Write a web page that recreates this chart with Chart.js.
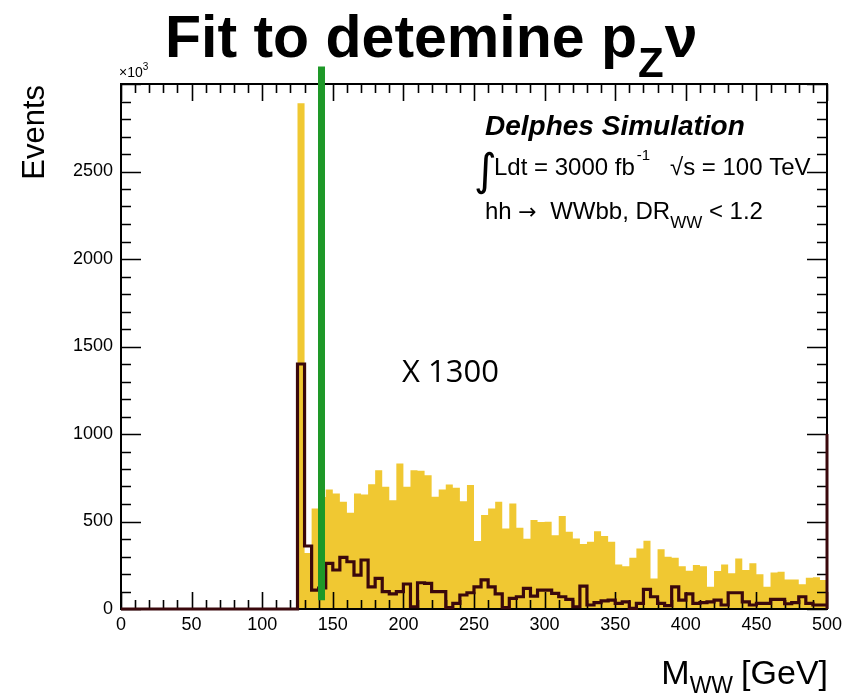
<!DOCTYPE html>
<html>
<head>
<meta charset="utf-8">
<title>M_WW</title>
<script src="https://cdn.jsdelivr.net/npm/chart.js@4.4.0/dist/chart.umd.min.js"></script>
<style>
  html, body { margin: 0; padding: 0; background: #fff; }
</style>
</head>
<body>
<canvas id="mwwChart" width="864" height="697"></canvas>
<script>
// histogram binning (GeV)
const binWidth = 5;
const xMin = 0, xMax = 500;
const yMax = 3000; // x10^3 events

const xTickValues = [0, 50, 100, 150, 200, 250, 300, 350, 400, 450, 500];
const yTickValues = [0, 500, 1000, 1500, 2000, 2500];

// background, one entry per 5 GeV bin (0-500)
const backgroundCounts = [
  0, 0, 0, 0, 0, 0, 0, 0, 0, 0,
  0, 0, 0, 0, 0, 0, 0, 0, 0, 0,
  0, 0, 0, 0, 0, 2890, 320, 575, 640, 683,
  660, 613, 550, 660, 655, 713, 793, 698, 622, 831,
  698, 793, 790, 765, 641, 683, 712, 693, 616, 708,
  388, 537, 575, 613, 460, 603, 464, 401, 508, 497,
  498, 422, 531, 441, 403, 371, 384, 445, 417, 384,
  255, 245, 293, 346, 390, 175, 341, 299, 293, 245,
  219, 251, 245, 127, 217, 255, 204, 289, 223, 261,
  198, 127, 209, 213, 169, 169, 141, 179, 181, 166
];

// hh signal, scaled x1300
const signalCounts = [
  0, 0, 0, 0, 0, 0, 0, 0, 0, 0,
  0, 0, 0, 0, 0, 0, 0, 0, 0, 0,
  0, 0, 0, 0, 0, 1400, 360, 108, 120, 261,
  223, 295, 270, 194, 280, 127, 175, 99, 86, 99,
  143, 13, 150, 147, 99, 99, 8, 32, 80, 93,
  127, 166, 127, 86, 8, 61, 70, 118, 74, 108,
  108, 89, 70, 55, 13, 131, 23, 36, 46, 51,
  32, 41, 4, 32, 112, 70, 32, 19, 127, 51,
  86, 32, 37, 41, 51, 23, 93, 93, 41, 23,
  32, 32, 55, 55, 30, 37, 70, 32, 23, 23
];
const signalScale = 1300;
const signalEdgeAt500 = 1000;

// fit cut line
const fitLineX = 142;
const fitLineY = [50, 3100];

const FONT = '"Liberation Sans", Arial, Helvetica, sans-serif';
const yellow = 'rgb(240, 200, 50)';
const maroon = 'rgb(58, 8, 12)';
const green = 'rgb(30, 152, 40)';

// step points: value of bin i holds from its low edge to the next edge
function stepPoints(counts) {
  const pts = counts.map((v, i) => ({ x: xMin + i * binWidth, y: v }));
  pts.push({ x: xMax, y: counts[counts.length - 1] });
  return pts;
}

// inward ROOT-style ticks and frame, drawn right after the filled histogram
const frameTicks = {
  id: 'frameTicks',
  afterDatasetDraw(chart, args) {
    if (args.index !== 3) return;
    const { ctx, chartArea: a, scales: { x, y } } = chart;
    ctx.save();
    ctx.strokeStyle = '#000';
    ctx.lineWidth = 1.6;
    ctx.beginPath();
    for (let v = xMin; v <= xMax; v += 10) {
      const px = Math.round(x.getPixelForValue(v)) + 0.5;
      const len = v % 50 === 0 ? 17 : 9;
      ctx.moveTo(px, a.bottom); ctx.lineTo(px, a.bottom - len);
      ctx.moveTo(px, a.top); ctx.lineTo(px, a.top + len);
    }
    for (let v = 0; v <= yMax; v += 100) {
      const py = Math.round(y.getPixelForValue(v)) + 0.5;
      const len = v % 500 === 0 ? 20 : 10;
      ctx.moveTo(a.left, py); ctx.lineTo(a.left + len, py);
      ctx.moveTo(a.right, py); ctx.lineTo(a.right - len, py);
    }
    ctx.stroke();
    ctx.lineWidth = 2;
    ctx.strokeRect(a.left, a.top, a.right - a.left, a.bottom - a.top);
    ctx.restore();
  }
};

// draws a run of [text, font, dy, gap] pieces left to right
function drawRun(ctx, x, y, pieces) {
  let cx = x;
  for (const [txt, font, dy, gap] of pieces) {
    ctx.font = font;
    ctx.fillText(txt, cx, y + (dy || 0));
    cx += ctx.measureText(txt).width + (gap || 0);
  }
  return cx;
}
function runWidth(ctx, pieces) {
  let w = 0;
  for (const [txt, font, , gap] of pieces) {
    ctx.font = font;
    w += ctx.measureText(txt).width + (gap || 0);
  }
  return w;
}

const labels = {
  id: 'labels',
  afterDraw(chart) {
    const { ctx, chartArea: a } = chart;
    ctx.save();
    ctx.fillStyle = '#000';
    ctx.textBaseline = 'alphabetic';
    ctx.textAlign = 'left';

    // title
    drawRun(ctx, 165, 57, [
      ['Fit to detemine p', `bold 59px ${FONT}`, 0, 1],
      ['Z', `bold 42px ${FONT}`, 20, 1],
      ['\u03bd', `bold 59px ${FONT}`, 0]
    ]);

    // x10^3 multiplier
    drawRun(ctx, a.left - 2, 77, [
      ['\u00d710', `14px ${FONT}`, 0],
      ['3', `10px ${FONT}`, -7]
    ]);

    // Delphes label block
    ctx.font = `italic bold 28px ${FONT}`;
    ctx.fillText('Delphes Simulation', 485, 135);
    ctx.font = `44px "DejaVu Sans"`;
    ctx.fillText('\u222b', 474, 185);
    drawRun(ctx, 494, 175, [
      ['Ldt = 3000 fb', `24px ${FONT}`, 0, 2],
      ['-1', `15px ${FONT}`, -15, 0]
    ]);
    drawRun(ctx, 670, 175, [['\u221as = 100 TeV', `24px ${FONT}`, 0]]);
    drawRun(ctx, 485, 219, [
      ['hh ', `24px ${FONT}`, 0],
      ['\u2192', `22px "DejaVu Sans"`, 0],
      ['  WWbb, DR', `24px ${FONT}`, 0],
      ['WW', `17px ${FONT}`, 9],
      [' < 1.2', `24px ${FONT}`, 0]
    ]);

    // signal scale note
    ctx.font = `31px "Open Sans", ${FONT}`;
    ctx.fillText('X ' + signalScale, 402, 382);

    // y axis title
    ctx.save();
    ctx.translate(44, a.top + 1);
    ctx.rotate(-Math.PI / 2);
    ctx.textAlign = 'right';
    ctx.font = `31px ${FONT}`;
    ctx.fillText('Events', 0, 0);
    ctx.restore();

    // x axis title, right-aligned to the frame
    const xTitle = [
      ['M', `34px ${FONT}`, 0],
      ['WW', `23px ${FONT}`, 9, 8],
      ['[GeV]', `34px ${FONT}`, 0]
    ];
    drawRun(ctx, a.right + 1 - runWidth(ctx, xTitle), 684, xTitle);
    ctx.restore();
  }
};

new Chart(document.getElementById('mwwChart'), {
  type: 'line',
  data: {
    datasets: [
      {
        label: 'fit',
        data: fitLineY.map(v => ({ x: fitLineX, y: v })),
        borderColor: green,
        borderWidth: 7,
        pointRadius: 0,
        clip: false
      },
      {
        label: 'signal',
        data: stepPoints(signalCounts),
        stepped: true,
        borderColor: maroon,
        borderWidth: 3.2,
        pointRadius: 0,
        fill: false,
        clip: false
      },
      {
        label: 'signal edge',
        data: [{ x: xMax, y: 0 }, { x: xMax, y: signalEdgeAt500 }],
        borderColor: maroon,
        borderWidth: 3,
        pointRadius: 0,
        clip: false
      },
      {
        label: 'background',
        data: stepPoints(backgroundCounts),
        stepped: true,
        borderWidth: 0,
        borderColor: 'rgba(0,0,0,0)',
        backgroundColor: yellow,
        pointRadius: 0,
        fill: 'origin'
      }
    ]
  },
  options: {
    responsive: false,
    animation: false,
    layout: { padding: { left: 10, right: 37, top: 84, bottom: 0 } },
    plugins: {
      legend: { display: false },
      tooltip: { enabled: false }
    },
    scales: {
      x: {
        type: 'linear',
        min: xMin,
        max: xMax,
        grid: { display: false, drawTicks: false },
        border: { display: false },
        afterBuildTicks: s => { s.ticks = xTickValues.map(v => ({ value: v })); },
        afterFit: s => { s.height = 88; },
        ticks: {
          autoSkip: false,
          maxRotation: 0,
          padding: 5,
          color: '#000',
          font: { family: FONT, size: 18 },
          callback: v => String(v)
        }
      },
      y: {
        type: 'linear',
        min: 0,
        max: yMax,
        grid: { display: false, drawTicks: false },
        border: { display: false },
        afterBuildTicks: s => { s.ticks = yTickValues.map(v => ({ value: v })); },
        afterFit: s => { s.width = 111; },
        ticks: {
          padding: 8,
          color: '#000',
          font: { family: FONT, size: 18 },
          callback: v => String(v)
        }
      }
    }
  },
  plugins: [frameTicks, labels]
});
</script>
</body>
</html>
